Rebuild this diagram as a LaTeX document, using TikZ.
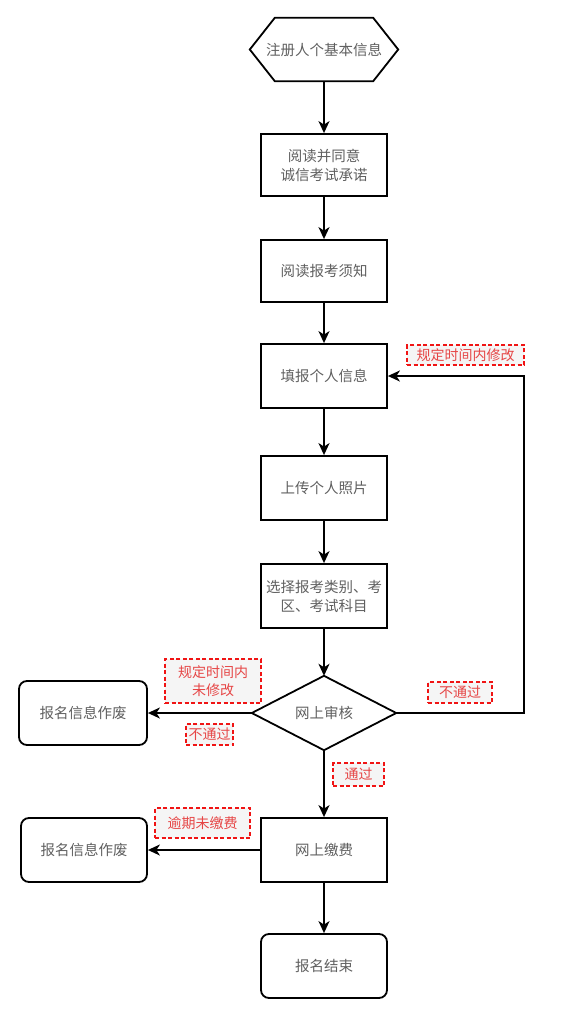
\documentclass[tikz,border=0pt]{standalone}
\usepackage{fontspec}
\setmainfont{Noto Sans CJK SC}
\usetikzlibrary{arrows.meta,positioning,calc}
\definecolor{txt}{RGB}{95,95,95}
\definecolor{lblred}{RGB}{230,70,70}
\definecolor{dashred}{RGB}{240,20,20}
\definecolor{lblfill}{RGB}{245,245,245}
\tikzset{
  base/.style={font=\fontsize{14.5}{19}\selectfont, text=txt, align=center, inner sep=0pt},
  procbox/.style={base, draw=black, line width=1.8pt, minimum width=126pt, minimum height=62pt},
  endbox/.style={procbox, rounded corners=8pt, minimum width=128pt, minimum height=64pt},
  lbl/.style={font=\fontsize{14}{18}\selectfont, text=lblred, align=center, draw=dashred, fill=lblfill,
    dash pattern=on 4pt off 2.5pt, line width=1.5pt, inner sep=0pt},
  flow/.style={line width=1.9pt, -{Stealth[length=12pt,width=11pt,inset=3.5pt]}},
}
\begin{document}
\begin{tikzpicture}[x=1pt,y=-1pt]
\useasboundingbox (0,0) rectangle (563,1033);
% hexagon start
\node[base, minimum width=148pt, minimum height=63pt] (start) at (324,49.5) {注册人个基本信息};
\draw[line width=1.8pt] ([xshift=25pt]start.north west) -- ([xshift=-25pt]start.north east) -- (start.east)
  -- ([xshift=-25pt]start.south east) -- ([xshift=25pt]start.south west) -- (start.west) -- cycle;
\node[procbox] (read) at (324,165) {阅读并同意\\诚信考试承诺};
\node[procbox] (notice) at (324,271) {阅读报考须知};
\node[procbox, minimum height=64pt] (fill) at (324,376) {填报个人信息};
\node[procbox, minimum height=64pt] (photo) at (324,488) {上传个人照片};
\node[procbox, minimum height=64pt] (choose) at (324,596) {选择报考类别、考\\区、考试科目};
% diamond
\node[base, minimum width=144pt, minimum height=74pt] (review) at (324,713) {网上审核};
\draw[line width=1.8pt] (review.north) -- (review.east) -- (review.south) -- (review.west) -- cycle;
\node[endbox] (void1) at (83,713) {报名信息作废};
\node[procbox, minimum height=64pt] (pay) at (324,850) {网上缴费};
\node[endbox, minimum width=126pt] (void2) at (84,850) {报名信息作废};
\node[endbox, minimum width=126pt] (end) at (324,966) {报名结束};
% connectors
\draw[flow] (start) -- (read);
\draw[flow] (read) -- (notice);
\draw[flow] (notice) -- (fill);
\draw[flow] (fill) -- (photo);
\draw[flow] (photo) -- (choose);
\draw[flow] (choose) -- (review.north);
\coordinate (loopA) at (524,713);
\coordinate (loopB) at (524,376);
\draw[flow] (review.east) -- (loopA) -- (loopB) -- (fill.east);
\draw[flow] (review.west) -- (void1.east);
\draw[flow] (review.south) -- (pay.north);
\draw[flow] (pay.west) -- (void2.east);
\draw[flow] (pay) -- (end);
% labels
\node[lbl, minimum width=117pt, minimum height=20pt] (l1) at (465.5,355) {规定时间内修改};
\node[lbl, minimum width=64pt, minimum height=21pt] (l2) at (460,692.5) {不通过};
\node[lbl, minimum width=96pt, minimum height=44pt] (l3) at (213,681) {规定时间内\\未修改};
\node[lbl, minimum width=47pt, minimum height=21pt] (l4) at (209.5,734.5) {不通过};
\node[lbl, minimum width=51pt, minimum height=23pt] (l5) at (358.5,774.5) {通过};
\node[lbl, minimum width=95pt, minimum height=30pt] (l6) at (202.5,823) {逾期未缴费};
\end{tikzpicture}
\end{document}
